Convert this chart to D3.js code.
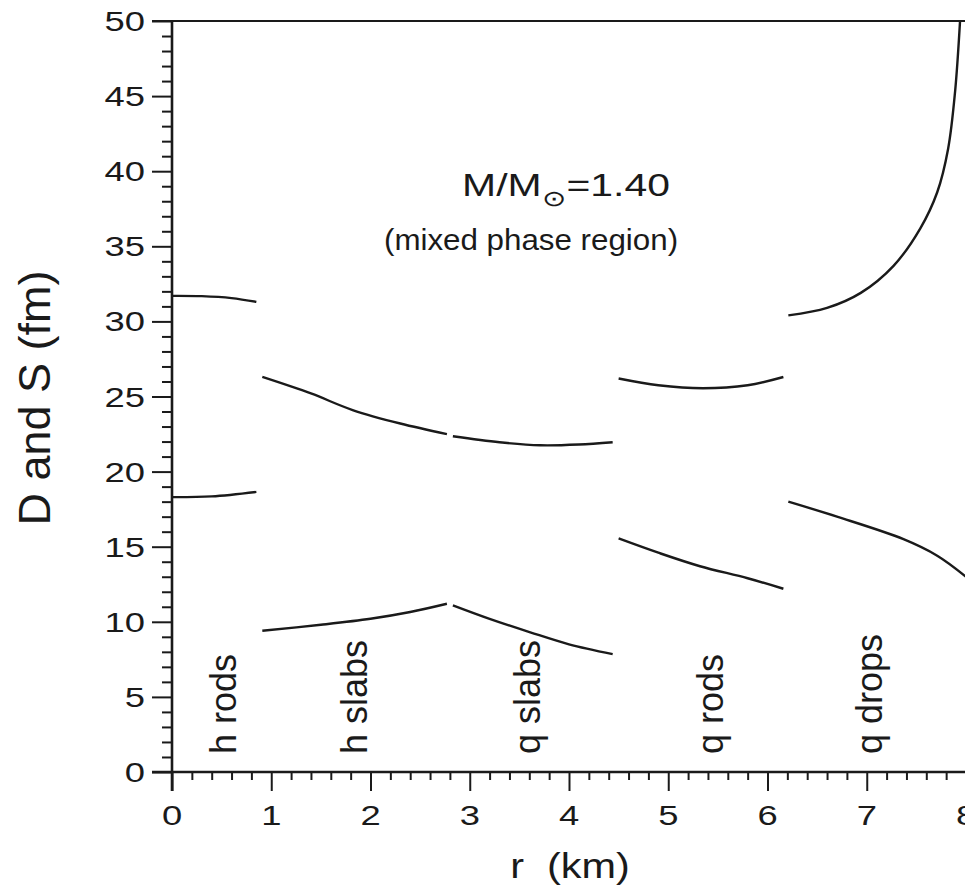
<!DOCTYPE html>
<html>
<head>
<meta charset="utf-8">
<script src="https://cdn.jsdelivr.net/npm/d3@7"></script>
<style>
  html, body { margin: 0; padding: 0; background: #fff; }
  svg { display: block; }
  text { font-family: "Liberation Sans", Arial, Helvetica, sans-serif; fill: #1a1a1a; }
</style>
</head>
<body>
<svg id="chart" width="965" height="893"></svg>
<script>
// ---------- data ----------
const xTickValues = [0, 1, 2, 3, 4, 5, 6, 7, 8];
const yTickValues = [0, 5, 10, 15, 20, 25, 30, 35, 40, 45, 50];
const phaseLabels = ["h rods", "h slabs", "q slabs", "q rods", "q drops"];
const phaseLabelR = [0.53, 1.85, 3.6, 5.44, 7.04];

const hRodsUpper  = [[0, 31.7], [0.3, 31.68], [0.6, 31.55], [0.85, 31.3]];
const hRodsLower  = [[0, 18.3], [0.4, 18.35], [0.85, 18.65]];
const hSlabsUpper = [[0.91, 26.3], [1.4, 25.2], [1.82, 24.1], [2.3, 23.2], [2.77, 22.5]];
const qSlabsUpper = [[2.83, 22.35], [3.3, 21.95], [3.71, 21.75], [4.1, 21.8], [4.44, 21.95]];
const qRodsUpper  = [[4.5, 26.2], [4.9, 25.75], [5.35, 25.55], [5.8, 25.75], [6.16, 26.3]];
const qRodsLower  = [[4.5, 15.55], [4.9, 14.6], [5.32, 13.7], [5.8, 12.9], [6.16, 12.2]];
const hSlabsLower = [[0.91, 9.4], [1.5, 9.8], [2.0, 10.2], [2.4, 10.65], [2.77, 11.2]];
const qSlabsLower = [[2.83, 11.1], [3.2, 10.2], [3.61, 9.3], [4.0, 8.5], [4.44, 7.85]];
const qDropsUpper = [[6.21, 30.4], [6.6, 30.9], [6.94, 31.9], [7.27, 33.7], [7.54, 36.2], [7.71, 38.6], [7.82, 41.5], [7.89, 45.3], [7.94, 50]];
const qDropsLower = [[6.21, 18.0], [6.7, 17.0], [7.37, 15.5], [7.71, 14.4], [8.0, 13.0]];

const segments = [hRodsUpper, hRodsLower, hSlabsUpper, qSlabsUpper, qRodsUpper,
                  qRodsLower, hSlabsLower, qSlabsLower, qDropsUpper, qDropsLower];

// ---------- layout ----------
const svg = d3.select("#chart");
const x = d3.scaleLinear().domain([0, 8]).range([172, 966]);
const y = d3.scaleLinear().domain([0, 50]).range([772, 21]);
const ink = "#1a1a1a";

// top border (extended left like a major tick)
svg.append("line")
  .attr("x1", x(0) - 20).attr("x2", 965)
  .attr("y1", y(50)).attr("y2", y(50))
  .attr("stroke", ink).attr("stroke-width", 2.2);

// x axis
const xAxisG = svg.append("g").attr("transform", `translate(0,${y(0)})`);
xAxisG.call(d3.axisBottom(x).tickValues(d3.range(0, 8.01, 0.2)).tickSize(8).tickFormat(""));
xAxisG.call(g => g.selectAll(".tick line")
  .attr("stroke", ink).attr("stroke-width", 2)
  .attr("y2", d => Math.abs(d - Math.round(d)) < 1e-6 ? 19 : 8));
xAxisG.select(".domain").remove();
xAxisG.append("line").attr("x1", x(0) - 20).attr("x2", 965).attr("y1", 0).attr("y2", 0)
  .attr("stroke", ink).attr("stroke-width", 2.4);
xAxisG.selectAll(".lbl").data(xTickValues).join("text")
  .attr("class", "lbl")
  .attr("transform", d => `translate(${x(d)},53) scale(1.3,1)`)
  .attr("text-anchor", "middle")
  .attr("font-size", 28)
  .text(d => d);

// y axis
const yAxisG = svg.append("g").attr("transform", `translate(${x(0)},0)`);
yAxisG.call(d3.axisLeft(y).tickValues(d3.range(0, 50.01, 1)).tickSize(10).tickFormat(""));
yAxisG.call(g => g.selectAll(".tick line")
  .attr("stroke", ink).attr("stroke-width", 2)
  .attr("x2", d => Math.round(d) % 5 === 0 ? -20 : -10));
yAxisG.select(".domain").remove();
yAxisG.append("line").attr("x1", 0).attr("x2", 0).attr("y1", y(50)).attr("y2", y(0) + 19)
  .attr("stroke", ink).attr("stroke-width", 2.6);
yAxisG.selectAll(".lbl").data(yTickValues).join("text")
  .attr("class", "lbl")
  .attr("transform", d => `translate(-27,${y(d) + 10}) scale(1.3,1)`)
  .attr("text-anchor", "end")
  .attr("font-size", 28)
  .text(d => d);

// axis titles
svg.append("text")
  .attr("transform", `translate(570,878) scale(1.15,1)`)
  .attr("text-anchor", "middle")
  .attr("font-size", 36)
  .attr("xml:space", "preserve")
  .text("r  (km)");
svg.append("text")
  .attr("transform", `translate(50,398) rotate(-90)`)
  .attr("text-anchor", "middle")
  .attr("font-size", 45)
  .text("D and S (fm)");

// curves
const line = d3.line().x(d => x(d[0])).y(d => y(d[1])).curve(d3.curveCatmullRom.alpha(0.5));
svg.append("g").selectAll("path").data(segments).join("path")
  .attr("d", line)
  .attr("fill", "none")
  .attr("stroke", ink)
  .attr("stroke-width", 2.4)
  .attr("stroke-linecap", "butt");

// annotation
const ann = svg.append("text")
  .attr("transform", `translate(566,196) scale(1.32,1)`)
  .attr("text-anchor", "middle")
  .attr("font-size", 31);
ann.append("tspan").text("M/M");
ann.append("tspan").attr("font-size", 22).attr("dy", 10).text("\u2299");
ann.append("tspan").attr("dy", -10).text("=1.40");

svg.append("text")
  .attr("transform", `translate(531,250) scale(1.08,1)`)
  .attr("text-anchor", "middle")
  .attr("font-size", 29)
  .text("(mixed phase region)");

// phase labels
svg.append("g").selectAll("text").data(phaseLabels).join("text")
  .attr("transform", (d, i) => `translate(${x(phaseLabelR[i]) + 11},${y(1.2)}) rotate(-90)`)
  .attr("text-anchor", "start")
  .attr("font-size", 36)
  .text(d => d);
</script>
</body>
</html>
